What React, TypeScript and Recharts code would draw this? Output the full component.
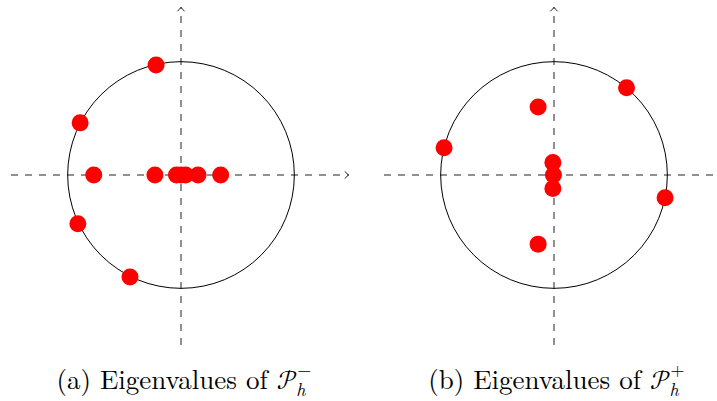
import { ScatterChart, Scatter, XAxis, YAxis, ReferenceLine, ReferenceDot } from "recharts";

// eigenvalues of P_h^- (real / imaginary parts)
const minusRe = [-0.22, -0.89, -0.77, -0.23, -0.04, 0, 0.04, 0.15, 0.35, -0.91, -0.45];
const minusIm = [0.97, 0.46, 0, 0, 0, 0, 0, 0, 0, -0.43, -0.9];

// eigenvalues of P_h^+
const plusRe = [0.64, -0.14, -0.97, -0.01, -0.005, -0.01, 0.98, -0.14];
const plusIm = [0.77, 0.6, 0.24, 0.11, 0, -0.12, -0.2, -0.61];

const captions = ["(a) Eigenvalues of ", "(b) Eigenvalues of "];
const supers = ["\u2212", "+"];

const DOMAIN: [number, number] = [-1.5, 1.5];
const AXIS_END = 1.48;

const CHART_W = 362;
const CHART_H = 350;
const MARGIN = { top: 5, right: 11, bottom: 5, left: 11 };
const PLOT = CHART_W - MARGIN.left - MARGIN.right;
const UNIT_R = PLOT / (DOMAIN[1] - DOMAIN[0]); // pixel radius of |z| = 1

const AXIS_COLOR = "#222";
const SERIF =
  '"Latin Modern Roman", "CMU Serif", "Liberation Serif", "DejaVu Serif", "Noto Serif", Tinos, "Nimbus Roman", FreeSerif, Times, serif';
const MATH = '"Latin Modern Math", "STIX Two Math", "STIX Math", "Cambria Math", ' + SERIF;

const toPoints = (re: number[], im: number[]) => re.map((r, i) => ({ re: r, im: im[i] }));

function ArrowLine(props: any) {
  const { x1, y1, x2, y2 } = props;
  const ang = (Math.atan2(y2 - y1, x2 - x1) * 180) / Math.PI;
  return (
    <g>
      <line x1={x1} y1={y1} x2={x2} y2={y2} stroke={AXIS_COLOR} strokeWidth={1} strokeDasharray="7 7" />
      <path
        d="M -4 -3.6 Q -1.2 -0.8 0 0 Q -1.2 0.8 -4 3.6"
        transform={`translate(${x2},${y2}) rotate(${ang})`}
        fill="none"
        stroke={AXIS_COLOR}
        strokeWidth={1}
      />
    </g>
  );
}

const RedDot = (props: any) => <circle cx={props.cx} cy={props.cy} r={8.5} fill="#ff0000" />;

function Panel({ data, left }: { data: { re: number; im: number }[]; left: number }) {
  return (
    <div style={{ position: "absolute", left, top: 0 }}>
      <ScatterChart width={CHART_W} height={CHART_H} margin={MARGIN}>
        <XAxis type="number" dataKey="re" domain={DOMAIN} allowDataOverflow hide />
        <YAxis type="number" dataKey="im" domain={DOMAIN} allowDataOverflow hide />
        <ReferenceDot x={0} y={0} r={UNIT_R} fill="none" stroke="#000" strokeWidth={1} />
        <ReferenceLine
          segment={[{ x: DOMAIN[0], y: 0 }, { x: AXIS_END, y: 0 }]}
          shape={ArrowLine}
        />
        <ReferenceLine
          segment={[{ x: 0, y: DOMAIN[0] }, { x: 0, y: AXIS_END }]}
          shape={ArrowLine}
        />
        <Scatter data={data} shape={RedDot} isAnimationActive={false} />
      </ScatterChart>
    </div>
  );
}

export default function App() {
  const centers = [181, 553.5];
  return (
    <div
      style={{
        position: "absolute",
        left: 0,
        top: 0,
        width: 717,
        height: 401,
        overflow: "hidden",
        background: "#fff",
      }}
    >
      <Panel data={toPoints(minusRe, minusIm)} left={0} />
      <Panel data={toPoints(plusRe, plusIm)} left={centers[1] - 181} />

      {/* captions */}
      {captions.map((c, i) => (
        <div
          key={c}
          style={{
            position: "absolute",
            left: centers[i] - 170,
            width: 340,
            top: 363,
            textAlign: "center",
            fontFamily: SERIF,
            fontSize: 27,
            lineHeight: "30px",
            color: "#000",
            whiteSpace: "pre",
          }}
        >
          {c}
          <span style={{ fontFamily: MATH }}>{"\u{1D4AB}"}</span>
          <span style={{ position: "relative", display: "inline-block", fontSize: 18, marginLeft: -1 }}>
            <span style={{ position: "relative", top: 7, fontStyle: "italic" }}>h</span>
            <span style={{ position: "absolute", left: 1, top: -13 }}>{supers[i]}</span>
          </span>
        </div>
      ))}
    </div>
  );
}
